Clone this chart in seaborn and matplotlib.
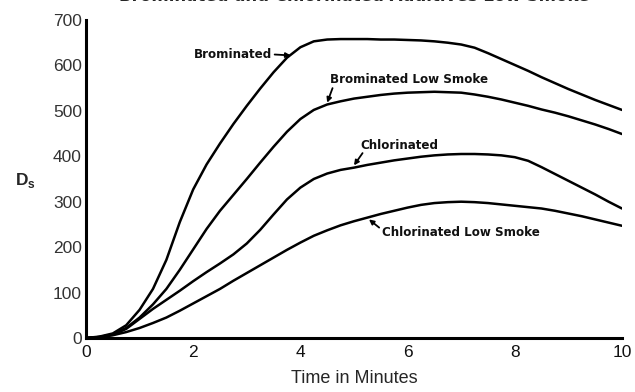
import matplotlib
matplotlib.use("Agg")
import matplotlib.pyplot as plt
import seaborn as sns
import pandas as pd

# Smoke density (Ds) readings over time, one list per formulation
minutes = [0, 0.25, 0.5, 0.75, 1, 1.25, 1.5, 1.75, 2, 2.25, 2.5, 2.75, 3, 3.25, 3.5, 3.75,
           4, 4.25, 4.5, 4.75, 5, 5.25, 5.5, 5.75, 6, 6.25, 6.5, 6.75, 7, 7.25, 7.5, 7.75,
           8, 8.25, 8.5, 8.75, 9, 9.25, 9.5, 9.75, 10]
brominated = [0, 3, 10, 28, 62, 108, 172, 255, 327, 382, 428, 471, 511, 549, 585, 617,
              640, 653, 657, 658, 658, 658, 657, 657, 656, 655, 653, 650, 646, 639, 627, 614,
              601, 588, 574, 561, 548, 536, 524, 513, 502]
brominated_low_smoke = [0, 2, 8, 22, 45, 74, 108, 150, 195, 240, 280, 315, 350, 386, 421, 454,
                        482, 502, 514, 521, 527, 531, 535, 538, 540, 541, 542, 541, 540, 536, 531, 525,
                        518, 511, 503, 496, 488, 479, 470, 460, 449]
chlorinated = [0, 2, 7, 20, 42, 64, 84, 104, 125, 145, 164, 184, 208, 238, 272, 305,
               331, 350, 362, 370, 375, 381, 386, 391, 395, 399, 402, 404, 405, 405, 404, 402,
               398, 390, 376, 361, 346, 331, 316, 300, 285]
chlorinated_low_smoke = [0, 2, 6, 13, 22, 33, 45, 60, 76, 92, 108, 126, 143, 160, 177, 194,
                         210, 225, 237, 248, 257, 265, 273, 280, 287, 293, 297, 299, 300, 299, 297, 294,
                         291, 288, 285, 280, 274, 268, 261, 254, 247]

series_names = ["Brominated", "Brominated Low Smoke", "Chlorinated", "Chlorinated Low Smoke"]
series_values = [brominated, brominated_low_smoke, chlorinated, chlorinated_low_smoke]

y_ticks = [0, 100, 200, 300, 400, 500, 600, 700]
x_ticks = [0, 2, 4, 6, 8, 10]

frames = []
for name, vals in zip(series_names, series_values):
    frames.append(pd.DataFrame({"Time": minutes, "Ds": vals, "Series": name}))
df = pd.concat(frames, ignore_index=True)

sns.set_theme(style="white")
plt.rcParams["font.family"] = ["Liberation Sans", "DejaVu Sans"]

fig = plt.figure(figsize=(6.35, 3.92), dpi=100)
ax = fig.add_axes([0.1354, 0.1378, 0.8441, 0.8112])

sns.lineplot(data=df, x="Time", y="Ds", units="Series", estimator=None,
             color="black", linewidth=1.8, ax=ax, legend=False)

ax.set_xlim(0, 10)
ax.set_ylim(0, 700)
ax.set_xticks(x_ticks)
ax.set_yticks(y_ticks)
ax.set_xticklabels([str(v) for v in x_ticks], fontsize=12.5, color="#111111")
ax.set_yticklabels([str(v) for v in y_ticks], fontsize=12.5, color="#333333")
ax.tick_params(axis="both", direction="in", length=3, width=1, color="#555555", pad=3)
ax.tick_params(axis="x", pad=5)

for side in ["top", "right"]:
    ax.spines[side].set_visible(False)
for side in ["left", "bottom"]:
    ax.spines[side].set_color("black")
    ax.spines[side].set_linewidth(2.2)

ax.set_xlabel("Time in Minutes", fontsize=13, labelpad=7)
ax.set_ylabel("")
fig.text(0.024, 0.54, r"D$_\mathregular{s}$", fontsize=12.5, fontweight="bold",
         ha="left", va="center")

# Title sits at the very top edge of the figure
fig.text(0.558, 0.988, "Brominated and Chlorinated Additives Low Smoke",
         fontsize=12, fontweight="bold", family="DejaVu Sans",
         ha="center", va="bottom")

arrow = dict(arrowstyle="-|>", color="black", lw=1.3, mutation_scale=7,
             shrinkA=0, shrinkB=0)
label_kw = dict(fontsize=8.6, fontweight="bold", color="#111111", family="DejaVu Sans")

ax.text(3.47, 623, "Brominated", ha="right", va="center", **label_kw)
ax.annotate("", xy=(3.82, 622), xytext=(3.52, 624), arrowprops=arrow)

ax.text(4.55, 568, "Brominated Low Smoke", ha="left", va="center", **label_kw)
ax.annotate("", xy=(4.5, 518), xytext=(4.6, 550), arrowprops=arrow)

ax.text(5.11, 423, "Chlorinated", ha="left", va="center", **label_kw)
ax.annotate("", xy=(5.0, 380), xytext=(5.16, 407), arrowprops=arrow)

ax.text(5.52, 233, "Chlorinated Low Smoke", ha="left", va="center", **label_kw)
ax.annotate("", xy=(5.28, 261), xytext=(5.47, 243), arrowprops=arrow)

fig.savefig("out.png", dpi=100)
